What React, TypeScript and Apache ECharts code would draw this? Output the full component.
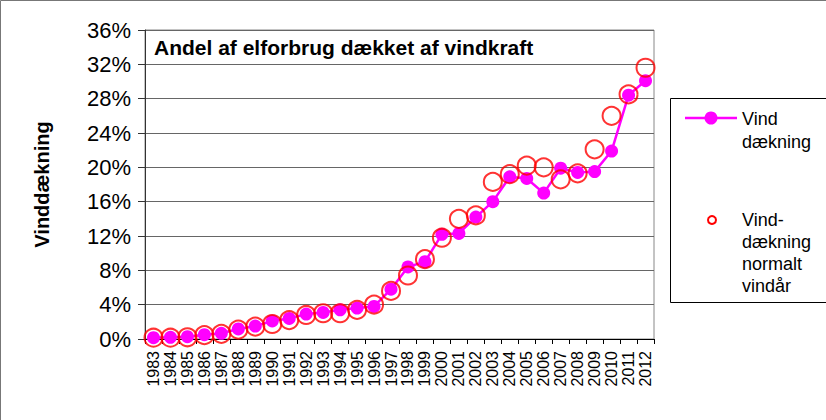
import React, { useEffect, useRef } from "react";
import * as echarts from "echarts";

const years = [
  "1983", "1984", "1985", "1986", "1987", "1988", "1989", "1990", "1991", "1992",
  "1993", "1994", "1995", "1996", "1997", "1998", "1999", "2000", "2001", "2002",
  "2003", "2004", "2005", "2006", "2007", "2008", "2009", "2010", "2011", "2012",
];

const vindDaekning = [
  0.15, 0.2, 0.27, 0.5, 0.66, 1.17, 1.5, 2.1, 2.4, 2.9,
  3.1, 3.4, 3.6, 3.8, 5.8, 8.4, 9.0, 12.2, 12.3, 14.2,
  16.0, 18.9, 18.7, 17.0, 19.9, 19.4, 19.5, 21.9, 28.4, 30.1,
];

const vindNormalt = [
  0.15, 0.15, 0.2, 0.45, 0.6, 1.1, 1.45, 1.75, 2.2, 2.8,
  3.0, 3.0, 3.4, 4.0, 5.6, 7.4, 9.3, 11.8, 14.0, 14.4,
  18.3, 19.2, 20.2, 20.0, 18.6, 19.3, 22.1, 26.0, 28.5, 31.6,
];

const yMin = 0;
const yMax = 36;
const yStep = 4;

const chartTitle = "Andel af elforbrug dækket af vindkraft";
const yName = "Vinddækning";
const legend1 = "Vind\ndækning";
const legend2 = "Vind-\ndækning\nnormalt\nvindår";

const FONT = '"Liberation Sans", Arial, sans-serif';

export default function App() {
  const ref = useRef<HTMLDivElement>(null);
  useEffect(() => {
    if (!ref.current) return;
    const chart = echarts.init(ref.current, undefined, { renderer: "svg" });
    chart.setOption({
      animation: false,
      backgroundColor: "#fff",
      textStyle: { fontFamily: FONT },
      grid: {
        left: 145,
        top: 30,
        width: 509,
        height: 309,
        show: true,
        borderColor: "#888",
        borderWidth: 1,
        backgroundColor: "transparent",
      },
      xAxis: {
        type: "category",
        data: years,
        boundaryGap: true,
        axisLine: { show: true, lineStyle: { color: "#000", width: 1 } },
        axisTick: { show: true, alignWithLabel: false, length: 5, lineStyle: { color: "#000" } },
        axisLabel: {
          interval: 0,
          rotate: 90,
          margin: 12,
          fontSize: 16,
          color: "#000",
          fontFamily: FONT,
        },
        splitLine: { show: false },
      },
      yAxis: {
        type: "value",
        min: yMin,
        max: yMax,
        interval: yStep,
        name: yName,
        nameLocation: "middle",
        nameGap: 93,
        nameTextStyle: { fontSize: 20, fontWeight: "bold", color: "#000", fontFamily: FONT },
        axisLine: { show: true, lineStyle: { color: "#333", width: 1 } },
        axisTick: { show: true, length: 7, lineStyle: { color: "#333" } },
        axisLabel: {
          formatter: "{value}%",
          fontSize: 22,
          color: "#000",
          margin: 14,
          fontFamily: FONT,
        },
        splitLine: { show: true, lineStyle: { color: "#666", width: 1 } },
      },
      series: [
        {
          name: "Vind dækning",
          type: "line",
          data: vindDaekning,
          symbol: "circle",
          symbolSize: 13,
          showAllSymbol: true,
          itemStyle: { color: "#FF00FF" },
          lineStyle: { color: "#FF00FF", width: 2.5 },
          z: 2,
        },
        {
          name: "Vind-dækning normalt vindår",
          type: "scatter",
          data: vindNormalt,
          symbol: "circle",
          symbolSize: 18,
          itemStyle: { color: "rgba(0,0,0,0)", borderColor: "#FF0000", borderWidth: 2 },
          z: 3,
        },
      ],
      graphic: [
        {
          type: "rect",
          shape: { x: 0.5, y: 0.5, width: 840, height: 440 },
          style: { fill: "none", stroke: "#777", lineWidth: 1 },
          silent: true,
        },
        {
          type: "text",
          x: 154,
          y: 47,
          style: {
            text: chartTitle,
            font: `bold 21px ${FONT}`,
            fill: "#000",
            verticalAlign: "middle",
          },
          z: 10,
        },
        {
          type: "rect",
          shape: { x: 670.5, y: 98.5, width: 200, height: 204 },
          style: { fill: "#fff", stroke: "#000", lineWidth: 1 },
          z: 5,
        },
        {
          type: "line",
          shape: { x1: 685, y1: 118, x2: 737, y2: 118 },
          style: { stroke: "#FF00FF", lineWidth: 2.5 },
          z: 6,
        },
        {
          type: "circle",
          shape: { cx: 711, cy: 118, r: 6.5 },
          style: { fill: "#FF00FF" },
          z: 6,
        },
        {
          type: "text",
          x: 742,
          y: 107,
          style: {
            text: legend1,
            font: `18px ${FONT}`,
            fill: "#000",
            lineHeight: 23,
            verticalAlign: "top",
          },
          z: 6,
        },
        {
          type: "circle",
          shape: { cx: 712, cy: 220, r: 4 },
          style: { fill: "#fff", stroke: "#FF0000", lineWidth: 2 },
          z: 6,
        },
        {
          type: "text",
          x: 742,
          y: 209,
          style: {
            text: legend2,
            font: `18px ${FONT}`,
            fill: "#000",
            lineHeight: 22,
            verticalAlign: "top",
          },
          z: 6,
        },
      ],
    });
    return () => chart.dispose();
  }, []);
  return (
    <div
      ref={ref}
      style={{ position: "fixed", left: 0, top: 0, width: 826, height: 420 }}
    />
  );
}
